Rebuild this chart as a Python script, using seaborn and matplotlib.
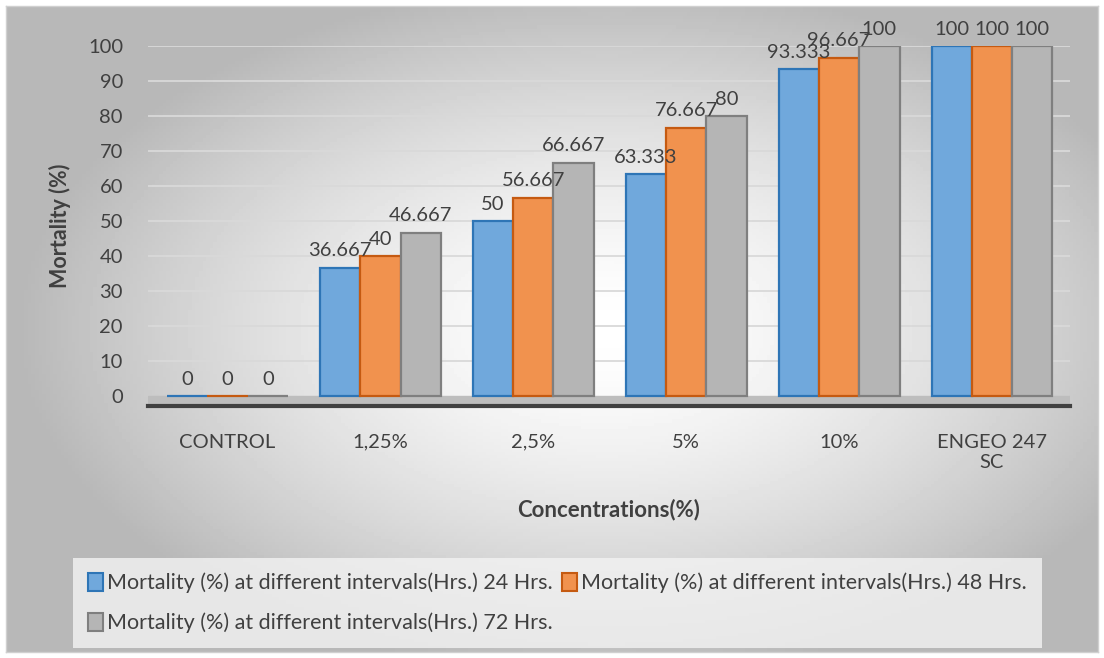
import numpy as np
import pandas as pd
import matplotlib
matplotlib.use('Agg')
import matplotlib.pyplot as plt
import seaborn as sns

categories = ['CONTROL', '1,25%', '2,5%', '5%', '10%', 'ENGEO 247\nSC']
hrs_24 = [0, 36.667, 50, 63.333, 93.333, 100]
hrs_48 = [0, 40, 56.667, 76.667, 96.667, 100]
hrs_72 = [0, 46.667, 66.667, 80, 100, 100]
series = ['Mortality (%) at different intervals(Hrs.) 24 Hrs.',
          'Mortality (%) at different intervals(Hrs.) 48 Hrs.',
          'Mortality (%) at different intervals(Hrs.) 72 Hrs.']

df = pd.DataFrame({
    'Concentration': categories * 3,
    'Series': [series[0]] * 6 + [series[1]] * 6 + [series[2]] * 6,
    'Mortality': hrs_24 + hrs_48 + hrs_72,
})

face = ['#70A8DC', '#F1924E', '#B5B5B5']
edge = ['#2E75B6', '#C55A11', '#7F7F7F']

sns.set_theme(style='white')
plt.rcParams['font.family'] = ['Lato', 'DejaVu Sans']

fig = plt.figure(figsize=(11.04, 6.58), dpi=100)

# background gradient panel
bg = fig.add_axes([6 / 1104, 6 / 658, 1092 / 1104, 646 / 658])
yy, xx = np.mgrid[0:1:200j, 0:1:300j]
r = np.sqrt(((xx - 0.55) / 0.9) ** 2 + ((yy - 0.5) / 0.9) ** 2)
grad = 1 - 0.28 * np.clip(r / 0.6, 0, 1) ** 1.5
bg.imshow(grad, cmap='gray', vmin=0, vmax=1, aspect='auto', extent=[0, 1, 0, 1])
bg.set_xticks([])
bg.set_yticks([])
for s in bg.spines.values():
    s.set_color('#d0d0d0')
    s.set_linewidth(1)

ax = fig.add_axes([148 / 1104, (658 - 406) / 658, 922 / 1104, 360 / 658])
ax.patch.set_alpha(0)

sns.barplot(data=df, x='Concentration', y='Mortality', hue='Series',
            palette=face, width=0.79, saturation=1, ax=ax, legend=True)

for i, cont in enumerate(ax.containers):
    for bar in cont:
        bar.set_edgecolor(edge[i])
        bar.set_linewidth(1.6)
        bar.set_zorder(3)
    ax.bar_label(cont, labels=[f'{v:g}' for v in cont.datavalues],
                 padding=6, fontsize=14.5, color='#404040')

ax.set_ylim(-2.8, 100)
ax.set_xlim(-0.52, 5.51)
ax.set_yticks(range(0, 101, 10))
for y in range(10, 101, 10):
    ax.axhline(y, color='#d9d9d9', lw=1.3, zorder=1)
ax.axhspan(-2.8, 0, color='#bdbdbd', zorder=2)
ax.tick_params(axis='both', labelsize=14.5, colors='#404040', length=0)
ax.tick_params(axis='x', pad=20)
ax.tick_params(axis='y', pad=18)
for s in ['top', 'right', 'left']:
    ax.spines[s].set_visible(False)
ax.spines['bottom'].set_color('#404040')
ax.spines['bottom'].set_linewidth(3)

ax.set_xlabel('Concentrations(%)', fontsize=16, fontweight='bold', color='#404040', labelpad=20)
ax.set_ylabel('Mortality (%)', fontsize=15.5, fontweight='bold', color='#404040', labelpad=12)

handles, labels = ax.get_legend_handles_labels()
ax.legend_.remove()
for i, h in enumerate(handles):
    h.set_edgecolor(edge[i])
    h.set_linewidth(1.5)
order = [0, 2, 1]
leg = fig.legend([handles[i] for i in order], [labels[i] for i in order],
                 ncol=2, loc='upper left', bbox_to_anchor=(62 / 1104, 1 - 547 / 658),
                 frameon=True, fontsize=15.5, handlelength=0.7, handleheight=0.9,
                 handletextpad=0.2, columnspacing=0.4, labelspacing=0.9,
                 borderpad=0.7, fancybox=False)
leg.get_frame().set_facecolor('#f3f3f3')
leg.get_frame().set_edgecolor('none')
for t in leg.get_texts():
    t.set_color('#404040')

fig.savefig('out.png', dpi=100)
